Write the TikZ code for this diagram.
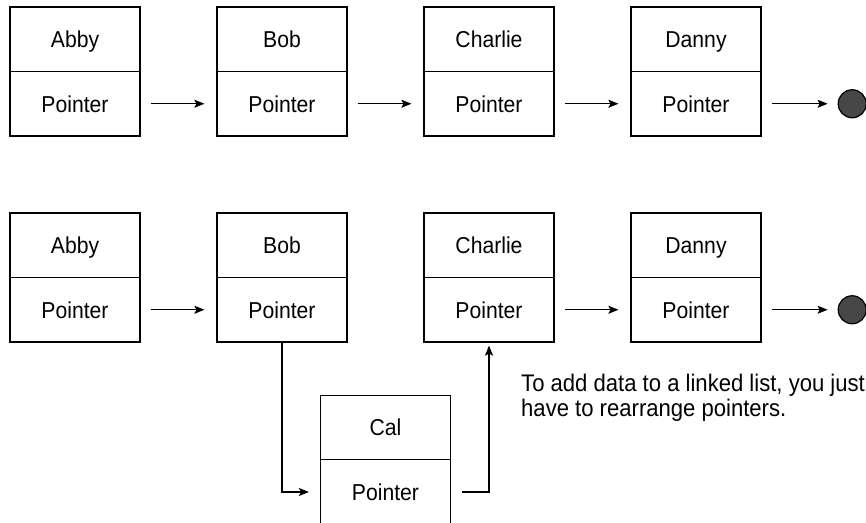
\documentclass[tikz,border=0pt]{standalone}
\usepackage{fontspec}
\setmainfont{Liberation Sans}[FakeStretch=0.92]
\usetikzlibrary{arrows.meta, positioning}

\tikzset{
  namebox/.style={draw, line width=1.2pt, minimum width=130pt, minimum height=64.5pt, inner sep=0pt,
    text height=16.5pt, text depth=0pt, font=\fontsize{23}{26}\selectfont},
  ptrbox/.style={namebox},
  endcircle/.style={circle, draw, line width=1.2pt, fill=black!72, minimum size=28pt, inner sep=0pt},
  link/.style={line width=1.2pt, -{Stealth[length=10pt, width=8pt, inset=2pt]}},
}

\begin{document}
\begin{tikzpicture}[x=1pt, y=-1pt]
    \useasboundingbox (0,0) rectangle (866,522);

    % The two lists
    \foreach \n/\t/\x in {abby/Abby/75, bob/Bob/282, charlie/Charlie/489, danny/Danny/696} {
        \node[namebox] (\n1) at (\x,39.25) {\t};
        \node[ptrbox, below=-1.2pt of \n1] (\n1p) {Pointer};
        \node[namebox] (\n2) at (\x,245.25) {\t};
        \node[ptrbox, below=-1.2pt of \n2] (\n2p) {Pointer};
    }

    % End of list
    \node[endcircle, right=76pt of danny1p] (end1) {};
    \node[endcircle, right=76pt of danny2p] (end2) {};

    \foreach \r in {1,2} {
        \draw[link, shorten <=10pt, shorten >=12pt] (abby\r p) -- (bob\r p);
        \draw[link, shorten <=10pt, shorten >=10pt] (danny\r p) -- (end\r);
    }
    \draw[link, shorten <=10pt, shorten >=12pt] (bob1p) -- (charlie1p);
    \draw[link, shorten <=10pt, shorten >=12pt] (charlie1p) -- (danny1p);
    \draw[link, shorten <=10pt, shorten >=12pt] (charlie2p) -- (danny2p);

    % New item
    \node[namebox] (cal) at (385.5,427.5) {Cal};
    \node[ptrbox, below=-1.2pt of cal] (calp) {Pointer};

    \draw[link, shorten >=11pt] (bob2p.south) |- (calp.west);
    \draw[link, shorten <=11pt, shorten >=3pt] (calp.east) -| (charlie2p.south);

    \node[anchor=north west, align=left, inner sep=0pt, font=\fontsize{24}{25}\selectfont] (note) at (521,374)
        {To add data to a linked list, you just\\have to rearrange pointers.};
\end{tikzpicture}
\end{document}
